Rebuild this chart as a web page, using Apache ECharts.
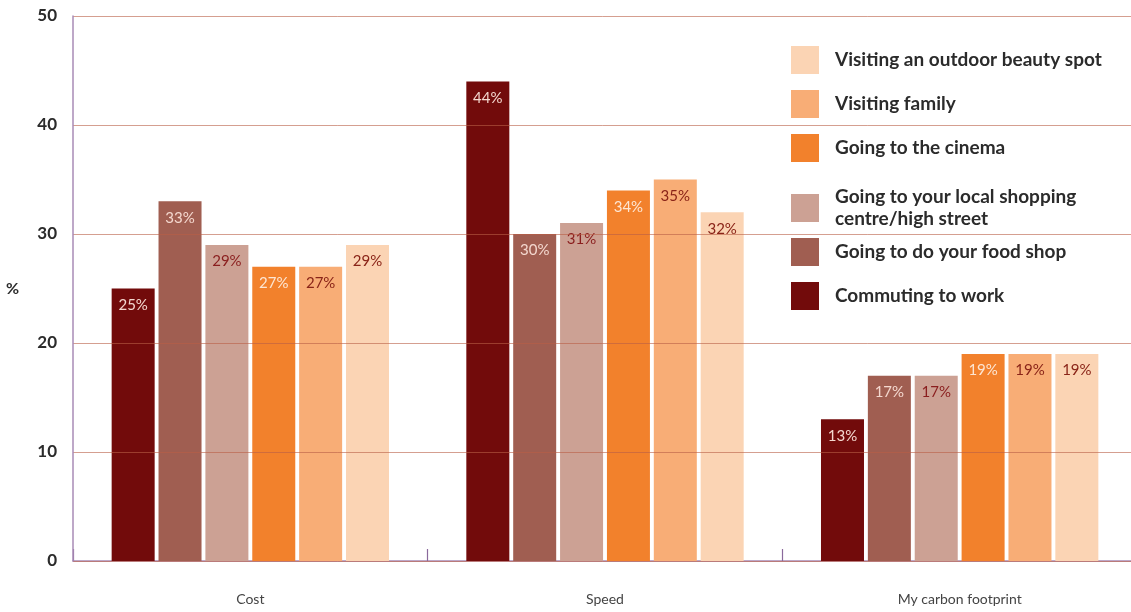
<!DOCTYPE html>
<html>
<head>
<meta charset="utf-8">
<script src="https://cdn.jsdelivr.net/npm/echarts@6/dist/echarts.min.js"></script>
<style>html,body{margin:0;padding:0;background:#fff}#c{width:1131px;height:612px}</style>
</head>
<body>
<div id="c"></div>
<script>
const categories = ['Cost', 'Speed', 'My carbon footprint'];
const seriesNames = ['Commuting to work', 'Going to do your food shop', 'Going to your local shopping\ncentre/high street', 'Going to the cinema', 'Visiting family', 'Visiting an outdoor beauty spot'];
const commuting = [25, 44, 13];
const foodShop = [33, 30, 17];
const shoppingCentre = [29, 31, 17];
const cinema = [27, 34, 19];
const family = [27, 35, 19];
const beautySpot = [29, 32, 19];
const yTicks = [0, 10, 20, 30, 40, 50];

const values = [commuting, foodShop, shoppingCentre, cinema, family, beautySpot];
const colors = ['#720b0b', '#a05e51', '#cca194', '#f2812c', '#f8ad76', '#fbd4b4'];
const labelColors = ['#f4d8cf', '#f4d8cf', '#8a1e1e', '#fde6d3', '#8a2418', '#8a2418'];
const FONT = 'Lato, "Noto Sans", sans-serif';

const chart = echarts.init(document.getElementById('c'), null, {renderer: 'canvas'});

function legendCfg(names, top) {
  return {
    data: names, orient: 'vertical', left: 786, top: top,
    itemWidth: 28, itemHeight: 28, itemGap: 16, icon: 'rect', selectedMode: false,
    textStyle: {fontFamily: FONT, fontSize: 19, fontWeight: 'bold', color: '#2b2b2b', lineHeight: 22, padding: [0, 0, 0, 11]}
  };
}

const option = {
  animation: false,
  color: colors,
  grid: {left: 73, width: 1064, top: 16, bottom: 51, outerBoundsMode: 'none', containLabel: false},
  legend: [
    legendCfg([seriesNames[5], seriesNames[4], seriesNames[3]], 41),
    legendCfg([seriesNames[2]], 181),
    legendCfg([seriesNames[1], seriesNames[0]], 233)
  ],
  xAxis: {
    type: 'category', data: categories,
    axisLine: {lineStyle: {color: '#a88bb6', width: 1.5}},
    axisTick: {show: true, inside: true, length: 12, lineStyle: {color: '#8a6a9c', width: 1.2}},
    axisLabel: {fontFamily: FONT, fontSize: 14, color: '#444', margin: 31}
  },
  yAxis: {
    type: 'value', min: yTicks[0], max: yTicks[yTicks.length - 1], interval: 10, z: 3,
    name: '%', nameLocation: 'middle', nameGap: 54, nameRotate: 0,
    nameTextStyle: {fontFamily: FONT, fontSize: 16, fontWeight: 'bold', color: '#2b2b2b'},
    axisLine: {show: true, lineStyle: {color: '#a88bb6', width: 1.5}},
    axisTick: {show: false},
    axisLabel: {fontFamily: FONT, fontSize: 17, fontWeight: 'bold', color: '#2b2b2b', margin: 16},
    splitLine: {lineStyle: {color: 'rgba(185,95,70,0.6)', width: 1}}
  },
  series: values.map((v, i) => ({
    name: seriesNames[i], type: 'bar', data: v,
    barWidth: 43, barGap: '9%',
    itemStyle: {color: colors[i]},
    label: {show: true, position: 'insideTop', distance: 9, formatter: '{c}%',
      fontFamily: FONT, fontSize: 15, fontWeight: 'normal', color: labelColors[i]}
  }))
};
chart.setOption(option);
</script>
</body>
</html>
